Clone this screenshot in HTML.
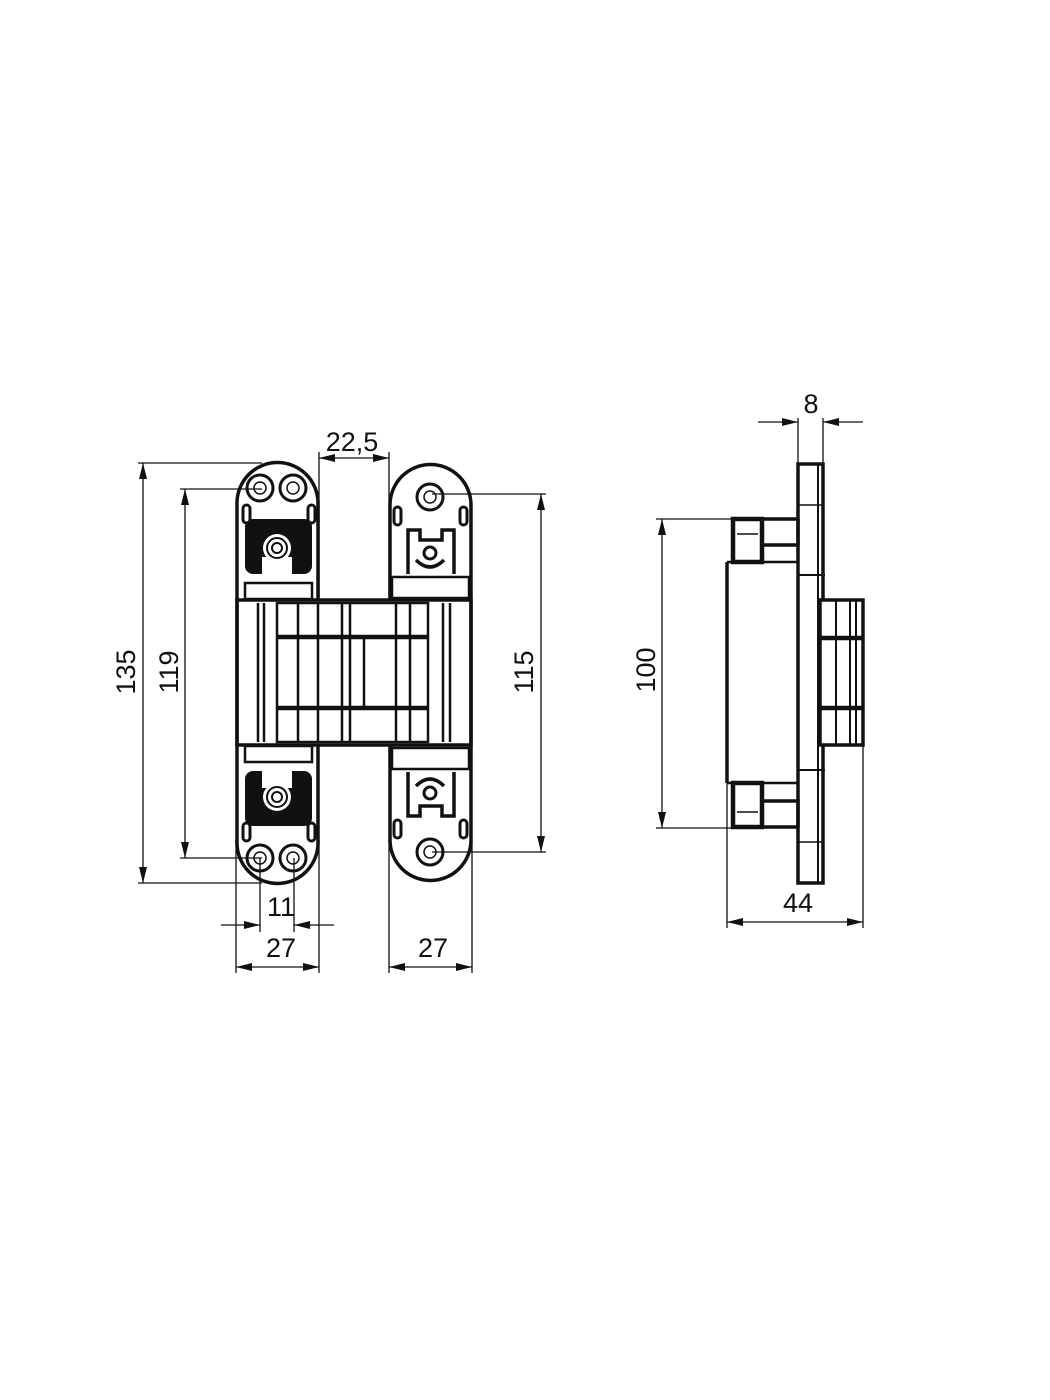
<!DOCTYPE html>
<html><head><meta charset="utf-8"><style>
html,body{margin:0;padding:0;background:#fff;}
svg{display:block;}
text{font-family:"Liberation Sans",sans-serif;font-size:27px;fill:#111;}
</style></head><body>
<svg width="1050" height="1400" viewBox="0 0 1050 1400" xmlns="http://www.w3.org/2000/svg">
<defs>
<marker id="a" viewBox="0 0 16 8" refX="16" refY="4" markerWidth="16" markerHeight="8" markerUnits="userSpaceOnUse" orient="auto-start-reverse"><path d="M0,0 L16,4 L0,8 Z" fill="#111"/></marker>
</defs>
<g stroke="#111" stroke-width="1.3" fill="none">
<line x1="138" y1="463" x2="262" y2="463"/>
<line x1="138" y1="883" x2="262" y2="883"/>
<line x1="143" y1="463" x2="143" y2="883" marker-start="url(#a)" marker-end="url(#a)"/>
<line x1="180" y1="489" x2="262" y2="489"/>
<line x1="180" y1="858" x2="262" y2="858"/>
<line x1="185" y1="489" x2="185" y2="858" marker-start="url(#a)" marker-end="url(#a)"/>
<line x1="432" y1="494" x2="546" y2="494"/>
<line x1="432" y1="852" x2="546" y2="852"/>
<line x1="541" y1="494" x2="541" y2="852" marker-start="url(#a)" marker-end="url(#a)"/>
<line x1="319" y1="452" x2="319" y2="600"/>
<line x1="389" y1="452" x2="389" y2="600"/>
<line x1="319" y1="458" x2="389" y2="458" marker-start="url(#a)" marker-end="url(#a)"/>
<line x1="260" y1="858" x2="260" y2="932"/>
<line x1="294" y1="858" x2="294" y2="932"/>
<line x1="221" y1="925" x2="260" y2="925" marker-end="url(#a)"/>
<line x1="334" y1="925" x2="294" y2="925" marker-end="url(#a)"/>
<line x1="236" y1="840" x2="236" y2="973"/>
<line x1="319" y1="840" x2="319" y2="973"/>
<line x1="236" y1="967" x2="319" y2="967" marker-start="url(#a)" marker-end="url(#a)"/>
<line x1="389" y1="840" x2="389" y2="973"/>
<line x1="472" y1="840" x2="472" y2="973"/>
<line x1="389" y1="967" x2="472" y2="967" marker-start="url(#a)" marker-end="url(#a)"/>
<line x1="798" y1="418" x2="798" y2="465"/>
<line x1="823" y1="418" x2="823" y2="465"/>
<line x1="758" y1="422" x2="798" y2="422" marker-end="url(#a)"/>
<line x1="863" y1="422" x2="823" y2="422" marker-end="url(#a)"/>
<line x1="656" y1="519" x2="735" y2="519"/>
<line x1="656" y1="828" x2="735" y2="828"/>
<line x1="662" y1="519" x2="662" y2="828" marker-start="url(#a)" marker-end="url(#a)"/>
<line x1="727" y1="783" x2="727" y2="928"/>
<line x1="863" y1="745" x2="863" y2="928"/>
<line x1="727" y1="922" x2="863" y2="922" marker-start="url(#a)" marker-end="url(#a)"/>
</g>
<text x="352" y="451" text-anchor="middle">22,5</text>
<text x="281" y="916" text-anchor="middle">11</text>
<text x="281" y="957" text-anchor="middle">27</text>
<text x="433" y="957" text-anchor="middle">27</text>
<text x="811" y="413" text-anchor="middle">8</text>
<text x="798" y="912" text-anchor="middle">44</text>
<text transform="translate(135,672) rotate(-90)" text-anchor="middle">135</text>
<text transform="translate(178,672) rotate(-90)" text-anchor="middle">119</text>
<text transform="translate(533,672) rotate(-90)" text-anchor="middle">115</text>
<text transform="translate(655,670) rotate(-90)" text-anchor="middle">100</text>

<g stroke="#111" fill="none" stroke-width="3.5">
<path d="M237,503 A40,40 0 0 1 318,503 L318,600 M237,503 L237,843 A40,40 0 0 0 318,843 L318,745"/>
<path d="M390,505 A40,40 0 0 1 471,505 L471,840 A40,40 0 0 1 390,840 L390,745 M390,505 L390,600"/>
<rect x="237" y="600" width="234" height="145"/>
<rect x="277" y="603" width="151" height="139" stroke-width="2.5"/>
<line x1="277" y1="637" x2="428" y2="637" stroke-width="4.5"/>
<line x1="277" y1="708" x2="428" y2="708" stroke-width="4.5"/>
<g stroke-width="2.5">
<line x1="258" y1="603" x2="258" y2="742"/>
<line x1="264" y1="603" x2="264" y2="742"/>
<line x1="298" y1="603" x2="298" y2="742"/>
<line x1="318" y1="603" x2="318" y2="742"/>
<line x1="342" y1="603" x2="342" y2="742"/>
<line x1="350" y1="603" x2="350" y2="742"/>
<line x1="364" y1="637" x2="364" y2="708"/>
<line x1="396" y1="603" x2="396" y2="742"/>
<line x1="410" y1="603" x2="410" y2="742"/>
<line x1="443" y1="603" x2="443" y2="742"/>
<line x1="450" y1="603" x2="450" y2="742"/>
</g>
<rect x="245" y="583" width="67" height="16" stroke-width="2.5"/>
<rect x="245" y="746" width="67" height="16" stroke-width="2.5"/>
<rect x="392" y="577" width="77" height="21" stroke-width="2.5"/>
<rect x="392" y="748" width="77" height="21" stroke-width="2.5"/>
<g stroke-width="3">
<circle cx="260" cy="488" r="13"/><circle cx="260" cy="488" r="6" stroke-width="1.5"/>
<circle cx="293" cy="488" r="13"/><circle cx="293" cy="488" r="6" stroke-width="1.5"/>
<circle cx="260" cy="858" r="13"/><circle cx="260" cy="858" r="6" stroke-width="1.5"/>
<circle cx="293" cy="858" r="13"/><circle cx="293" cy="858" r="6" stroke-width="1.5"/>
<circle cx="430" cy="497" r="13"/><circle cx="430" cy="497" r="6" stroke-width="1.5"/>
<circle cx="430" cy="852" r="13"/><circle cx="430" cy="852" r="6" stroke-width="1.5"/>
</g>
<g stroke-width="3">
<rect x="243" y="505" width="7" height="18" rx="3.5"/><rect x="308" y="505" width="7" height="18" rx="3.5"/>
<rect x="243" y="823" width="7" height="18" rx="3.5"/><rect x="308" y="823" width="7" height="18" rx="3.5"/>
<rect x="394" y="507" width="7" height="18" rx="3.5"/><rect x="460" y="507" width="7" height="18" rx="3.5"/>
<rect x="394" y="820" width="7" height="18" rx="3.5"/><rect x="460" y="820" width="7" height="18" rx="3.5"/>
</g>
<path d="M408,574 L408,530 L420,530 L420,540 L442,540 L442,530 L454,530 L454,574" stroke-width="3.5"/>
<path d="M408,772 L408,816 L420,816 L420,806 L442,806 L442,816 L454,816 L454,772" stroke-width="3.5"/>
<circle cx="430" cy="553" r="6" stroke-width="3"/>
<path d="M416,560 Q430,574 444,560" stroke-width="3.5"/>
<circle cx="430" cy="793" r="6" stroke-width="3"/>
<path d="M416,786 Q430,772 444,786" stroke-width="3.5"/>
</g>
<rect x="245" y="519" width="67" height="55" rx="8" fill="#111"/>
<rect x="262" y="557" width="30" height="17" fill="#fff"/>
<circle cx="277" cy="548" r="14" fill="#fff"/>
<circle cx="277" cy="548" r="10" fill="none" stroke="#111" stroke-width="2"/>
<circle cx="277" cy="548" r="5" fill="none" stroke="#111" stroke-width="2"/>
<rect x="245" y="771" width="67" height="55" rx="8" fill="#111"/>
<rect x="262" y="771" width="30" height="17" fill="#fff"/>
<circle cx="277" cy="797" r="14" fill="#fff"/>
<circle cx="277" cy="797" r="10" fill="none" stroke="#111" stroke-width="2"/>
<circle cx="277" cy="797" r="5" fill="none" stroke="#111" stroke-width="2"/>

<g stroke="#111" fill="none" stroke-width="3.5">
<rect x="798" y="464" width="25" height="419"/>
<line x1="818" y1="464" x2="818" y2="883" stroke-width="2"/>
<line x1="798" y1="505" x2="823" y2="505" stroke-width="1.5"/>
<line x1="798" y1="842" x2="823" y2="842" stroke-width="1.5"/>
<rect x="820" y="600" width="43" height="145" fill="#fff"/>
<line x1="820" y1="638" x2="863" y2="638" stroke-width="4.5"/>
<line x1="820" y1="708" x2="863" y2="708" stroke-width="4.5"/>
<line x1="836" y1="600" x2="836" y2="745" stroke-width="2"/>
<line x1="850" y1="600" x2="850" y2="745" stroke-width="2"/>
<line x1="856" y1="600" x2="856" y2="745" stroke-width="2"/>
<path d="M798,575 L825,575 M798,770 L825,770" stroke-width="2"/>
<line x1="727" y1="562" x2="727" y2="783"/>
<path d="M727,562 L798,562" stroke-width="2.5"/>
<path d="M727,783 L798,783" stroke-width="2.5"/>
<rect x="733" y="519" width="29" height="43" stroke-width="4.5"/>
<line x1="737" y1="534" x2="758" y2="534" stroke-width="1.5"/>
<path d="M762,519 L798,519 M762,545 L798,545 L798,519"/>
<rect x="733" y="783" width="29" height="44" stroke-width="4.5"/>
<line x1="737" y1="812" x2="758" y2="812" stroke-width="1.5"/>
<path d="M762,827 L798,827 M762,801 L798,801 L798,827"/>
</g>
</svg>
</body></html>
